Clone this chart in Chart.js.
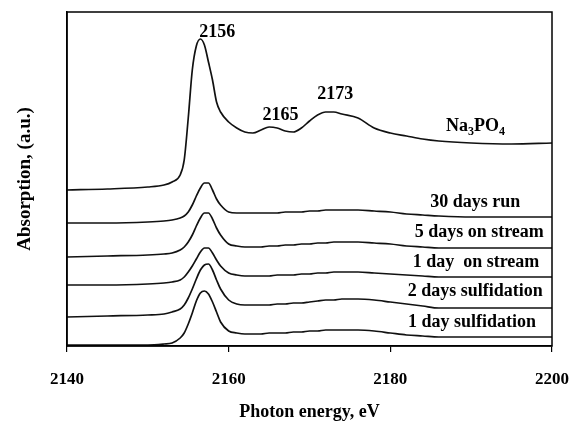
<!DOCTYPE html>
<html>
<head>
<meta charset="utf-8">
<script src="https://cdn.jsdelivr.net/npm/chart.js@4.4.1/dist/chart.umd.min.js"></script>
<style>
html,body{margin:0;padding:0;background:#fff;}
#wrap{width:573px;height:427px;}
</style>
</head>
<body>
<div id="wrap"><canvas id="c" width="573" height="427"></canvas></div>
<script>
// Photon energy grid (eV)
const energies = [2140,2145,2150,2152,2153,2154,2154.5,2155,2155.5,2156,
  2156.5,2157,2157.5,2158,2158.5,2159,2160,2161,2162,2163,
  2164,2165,2166,2167,2168,2169,2170,2171,2172,2173,
  2174,2176,2178,2180,2182,2184,2186,2190,2195,2200];

// Absorption (a.u., stacked as in the figure)
const na3po4 = [1.56,1.57,1.59,1.61,1.64,1.71,1.86,2.28,2.76,3.00,
  3.07,3.01,2.84,2.66,2.44,2.34,2.24,2.18,2.14,2.13,
  2.16,2.19,2.18,2.15,2.14,2.18,2.25,2.31,2.34,2.34,
  2.32,2.28,2.18,2.13,2.10,2.07,2.05,2.03,2.02,2.03];
const run30days = [1.23,1.23,1.24,1.25,1.26,1.28,1.30,1.34,1.41,1.50,
  1.58,1.63,1.63,1.56,1.47,1.41,1.34,1.33,1.33,1.33,
  1.33,1.33,1.33,1.34,1.34,1.34,1.35,1.35,1.36,1.36,
  1.36,1.36,1.35,1.34,1.32,1.31,1.30,1.29,1.29,1.29];
const stream5days = [0.89,0.90,0.91,0.92,0.93,0.96,0.99,1.04,1.11,1.20,
  1.28,1.33,1.33,1.27,1.18,1.11,1.02,1.00,0.99,0.99,
  0.99,1.00,1.00,1.01,1.01,1.02,1.02,1.03,1.03,1.04,
  1.04,1.04,1.03,1.02,1.00,0.99,0.98,0.98,0.98,0.98];
const stream1day = [0.61,0.61,0.62,0.63,0.64,0.66,0.69,0.74,0.80,0.87,
  0.94,0.98,0.98,0.93,0.86,0.80,0.73,0.71,0.70,0.70,
  0.70,0.70,0.71,0.71,0.71,0.72,0.72,0.73,0.73,0.74,
  0.74,0.74,0.73,0.72,0.71,0.70,0.69,0.69,0.69,0.69];
const sulf2days = [0.29,0.30,0.31,0.32,0.34,0.37,0.41,0.48,0.57,0.67,
  0.76,0.81,0.82,0.76,0.66,0.57,0.46,0.42,0.41,0.41,
  0.41,0.41,0.42,0.42,0.43,0.43,0.44,0.45,0.46,0.46,
  0.47,0.47,0.46,0.44,0.42,0.40,0.38,0.38,0.38,0.38];
const sulf1day = [0.01,0.01,0.01,0.02,0.03,0.08,0.13,0.22,0.33,0.45,
  0.53,0.55,0.52,0.44,0.34,0.24,0.15,0.13,0.12,0.12,
  0.12,0.13,0.13,0.13,0.14,0.14,0.15,0.15,0.16,0.16,
  0.16,0.16,0.15,0.13,0.11,0.10,0.09,0.09,0.09,0.09];

const seriesNames = ['Na3PO4','30 days run','5 days on stream','1 day  on stream','2 days sulfidation','1 day sulfidation'];
const seriesValues = [na3po4, run30days, stream5days, stream1day, sulf2days, sulf1day];
const xTicks = [2140,2160,2180,2200];
const peakLabels = ['2156','2165','2173'];

const FONT = '"Liberation Serif", "Times New Roman", serif';

const datasets = seriesValues.map((vals, i) => ({
  label: seriesNames[i],
  data: energies.map((e, k) => ({x: e, y: vals[k]})),
  borderColor: '#111',
  borderWidth: 1.7,
  pointRadius: 0,
  fill: false,
  cubicInterpolationMode: 'monotone'
}));

// text placement (energy, absorption)
const peakPos = [[2158.6, 3.14], [2166.4, 2.31], [2173.2, 2.52]];
const seriesLabelPos = [null, [2190.5, 1.44], [2191.0, 1.14], [2190.6, 0.84], [2190.5, 0.55], [2190.1, 0.24]];
const naLabelPos = [2186.9, 2.20];

const textPlugin = {
  id: 'texts',
  afterDatasetsDraw(chart) {
    const {ctx, scales: {x, y}} = chart;
    ctx.save();
    ctx.fillStyle = '#000';
    ctx.font = 'bold 18px ' + FONT;
    ctx.textAlign = 'center';
    ctx.textBaseline = 'middle';
    peakLabels.forEach((t, i) => {
      ctx.fillText(t, x.getPixelForValue(peakPos[i][0]), y.getPixelForValue(peakPos[i][1]));
    });
    seriesNames.forEach((t, i) => {
      if (!seriesLabelPos[i]) return;
      ctx.fillText(t, x.getPixelForValue(seriesLabelPos[i][0]), y.getPixelForValue(seriesLabelPos[i][1]));
    });
    // Na3PO4 with subscripts
    let px = x.getPixelForValue(naLabelPos[0]);
    const py = y.getPixelForValue(naLabelPos[1]);
    ctx.textAlign = 'left';
    const parts = [['Na', false], ['3', true], ['PO', false], ['4', true]];
    parts.forEach(([t, sub]) => {
      ctx.font = 'bold ' + (sub ? 12 : 18) + 'px ' + FONT;
      ctx.fillText(t, px, sub ? py + 6 : py);
      px += ctx.measureText(t).width;
    });
    ctx.restore();
  },
  afterDraw(chart) {
    const {ctx, chartArea: a} = chart;
    ctx.save();
    ctx.strokeStyle = '#000';
    ctx.lineWidth = 1.5;
    ctx.strokeRect(a.left, a.top, a.right - a.left, a.bottom - a.top);
    ctx.restore();
  }
};

new Chart(document.getElementById('c'), {
  type: 'line',
  data: {datasets},
  plugins: [textPlugin],
  options: {
    responsive: false,
    devicePixelRatio: 1,
    animation: false,
    layout: {padding: {left: 0, right: 21, top: 12, bottom: 0}},
    plugins: {legend: {display: false}, tooltip: {enabled: false}},
    scales: {
      x: {
        type: 'linear',
        min: 2140, max: 2200,
        afterBuildTicks: (s) => { s.ticks = xTicks.map(v => ({value: v})); },
        afterFit: (s) => { s.paddingRight = 0; s.paddingLeft = 0; },
        ticks: {color: '#000', font: {family: FONT, size: 17, weight: 'bold'}, padding: 17, maxRotation: 0,
          callback: (v) => String(v)},
        grid: {drawOnChartArea: false, drawTicks: true, tickLength: 6, color: '#000', lineWidth: 1.2},
        border: {display: true, color: '#000', width: 1.5},
        title: {display: true, text: 'Photon energy, eV', color: '#000',
          font: {family: FONT, size: 18, weight: 'bold'}, padding: {top: -5, bottom: 4}}
      },
      y: {
        type: 'linear',
        min: 0, max: 3.34,
        ticks: {display: false},
        grid: {display: false},
        border: {display: true, color: '#000', width: 1.5},
        title: {display: true, text: 'Absorption, (a.u.)', color: '#000',
          font: {family: FONT, size: 19, weight: 'bold'}, padding: {top: 13.6, bottom: 22.6}}
      }
    }
  }
});
</script>
</body>
</html>
